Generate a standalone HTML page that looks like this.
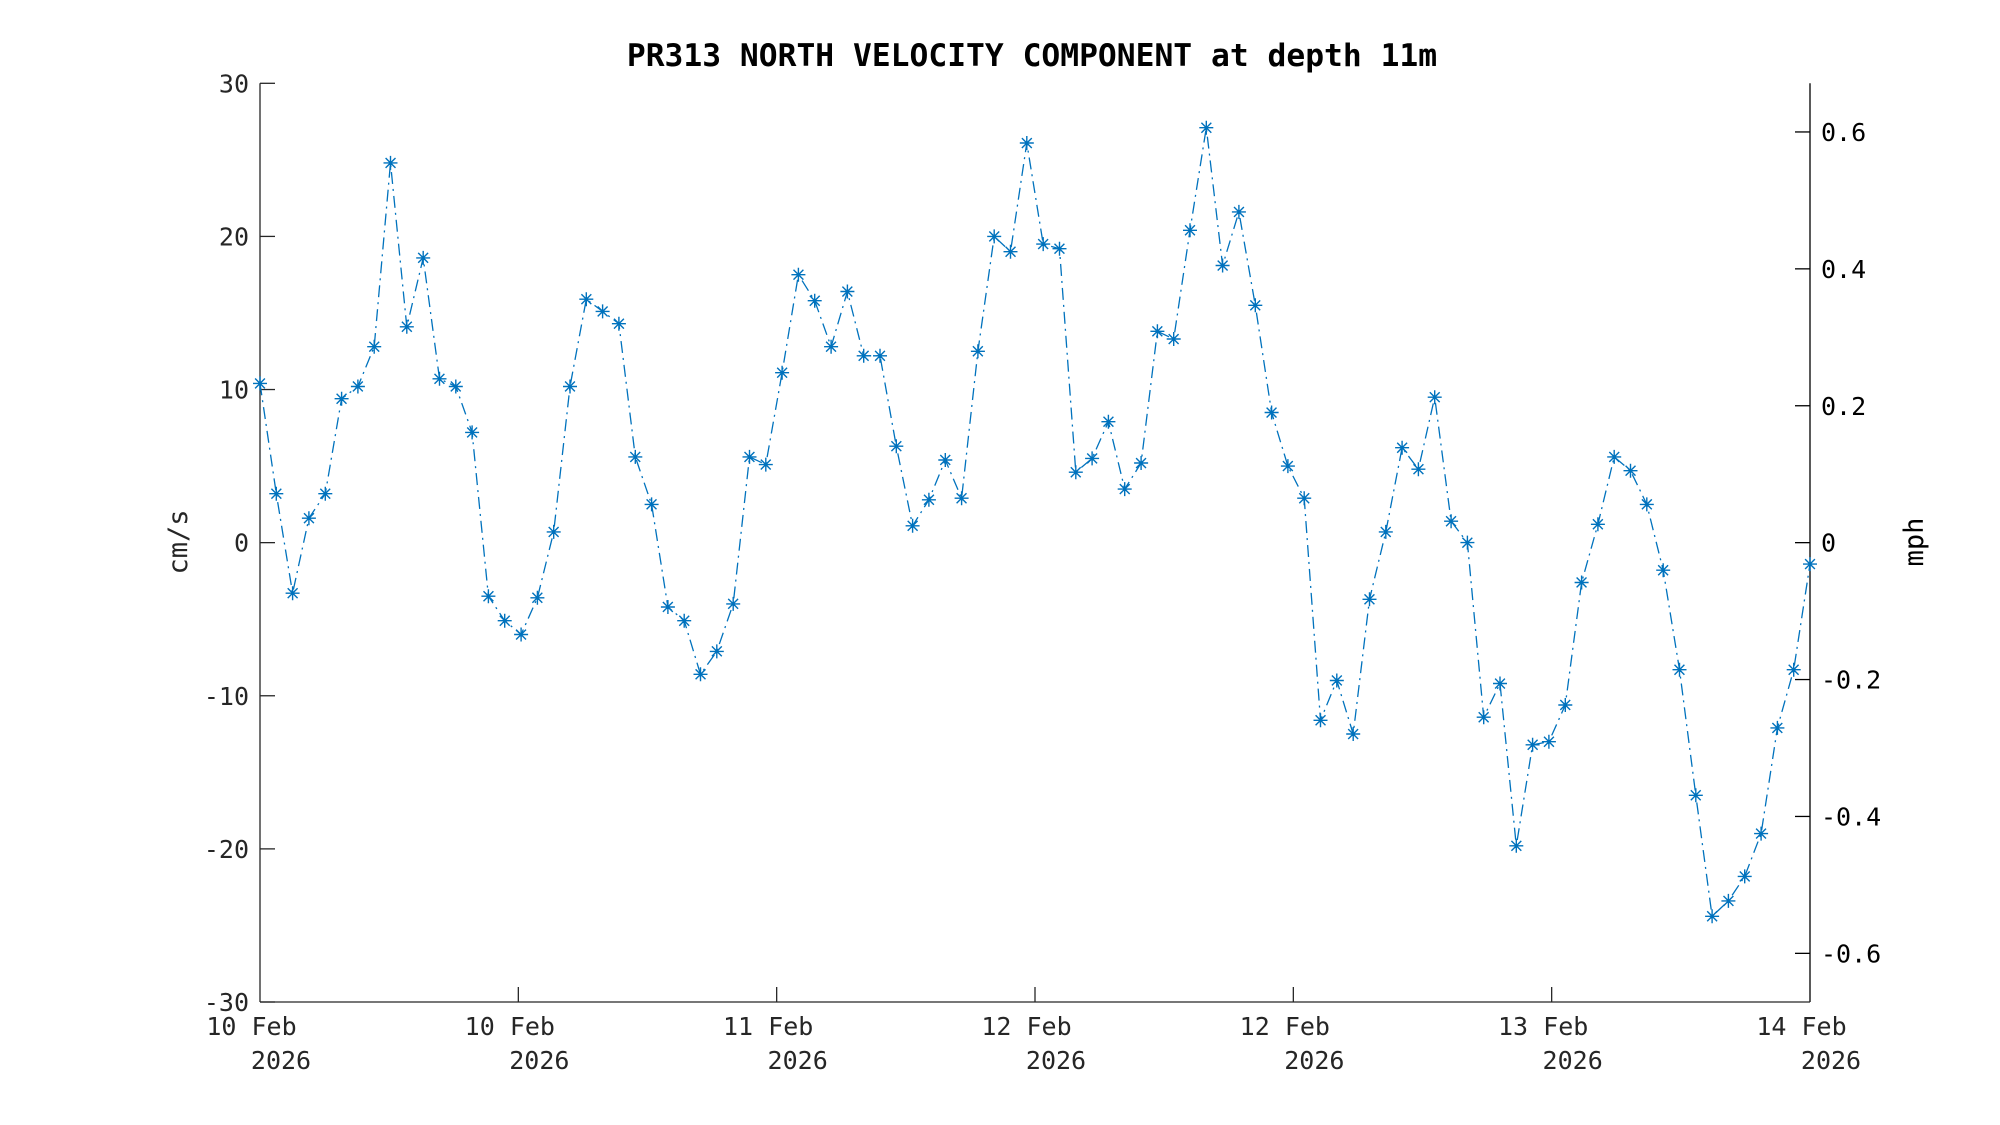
<!DOCTYPE html>
<html><head><meta charset="utf-8"><style>
html,body{margin:0;padding:0;background:#fff;}
svg{display:block;font-family:"DejaVu Sans Mono","Liberation Mono",monospace;}
</style></head><body>
<svg id="c" width="2000" height="1125" xmlns="http://www.w3.org/2000/svg"></svg>
<script>
const s=document.getElementById('c');
const L=260,R=1810,T=83.3,B=1002;
const yv=v=>542.65-v*(B-T)/60;
let h='';
h+=`<line x1="${L}" y1="${T}" x2="${L}" y2="${B}" stroke="#262626" stroke-width="1.3"/>`;
h+=`<line x1="${R}" y1="${T}" x2="${R}" y2="${B}" stroke="#000" stroke-width="1.3"/>`;
h+=`<line x1="${L}" y1="${B}" x2="${R}" y2="${B}" stroke="#262626" stroke-width="1.3"/>`;
for(let v=-30;v<=30;v+=10){const y=yv(v);
h+=`<line x1="${L}" y1="${y}" x2="${L+15}" y2="${y}" stroke="#262626" stroke-width="1.3"/>`;
h+=`<text x="${L-11}" y="${y+9}" font-size="25" fill="#262626" text-anchor="end">${v}</text>`;}
for(let m=-0.6;m<=0.61;m+=0.2){const mm=Math.round(m*10)/10;const y=yv(mm*44.704);
h+=`<line x1="${R-15}" y1="${y}" x2="${R}" y2="${y}" stroke="#000" stroke-width="1.3"/>`;
h+=`<text x="${R+11}" y="${y+9}" font-size="25" fill="#000">${mm===0?'0':mm.toFixed(1)}</text>`;}
const lab=['10 Feb','10 Feb','11 Feb','12 Feb','12 Feb','13 Feb','14 Feb'];
for(let i=0;i<7;i++){const x=L+i*(R-L)/6;
if(i>0&&i<6)h+=`<line x1="${x}" y1="${B}" x2="${x}" y2="${B-15}" stroke="#262626" stroke-width="1.3"/>`;
h+=`<text x="${x-8.5}" y="1035" font-size="25" fill="#262626" text-anchor="middle">${lab[i]}</text>`;
h+=`<text x="${x+21}" y="1069" font-size="25" fill="#262626" text-anchor="middle">2026</text>`;}
h+=`<text x="1032" y="66" font-size="31.3" font-weight="bold" text-anchor="middle" fill="#000">PR313 NORTH VELOCITY COMPONENT at depth 11m</text>`;
h+=`<text transform="translate(187,542) rotate(-90)" font-size="27" text-anchor="middle" fill="#262626">cm/s</text>`;
h+=`<text transform="translate(1923,542) rotate(-90)" font-size="27" text-anchor="middle" fill="#000">mph</text>`;
const d=[10.4,3.2,-3.3,1.6,3.2,9.4,10.2,12.8,24.8,14.1,18.6,10.7,10.2,7.2,-3.5,-5.1,-6.0,-3.6,0.7,10.2,15.9,15.1,14.3,5.6,2.5,-4.2,-5.1,-8.6,-7.1,-4.0,5.6,5.1,11.1,17.5,15.8,12.8,16.4,12.2,12.2,6.3,1.1,2.8,5.4,2.9,12.5,20.0,19.0,26.1,19.5,19.2,4.6,5.5,7.9,3.5,5.2,13.8,13.3,20.4,27.1,18.1,21.6,15.5,8.5,5.0,2.9,-11.6,-9.0,-12.5,-3.7,0.7,6.2,4.8,9.5,1.4,0.0,-11.4,-9.2,-19.8,-13.2,-13.0,-10.6,-2.6,1.2,5.6,4.7,2.5,-1.8,-8.3,-16.5,-24.4,-23.4,-21.8,-19.0,-12.1,-8.3,-1.4];
const n=d.length;const px=i=>L+i*(R-L)/(n-1);
let p=d.map((v,i)=>`${px(i).toFixed(1)},${yv(v).toFixed(1)}`).join(' ');
h+=`<polyline points="${p}" fill="none" stroke="#0072BD" stroke-width="1.3" stroke-dasharray="12,5,2,5"/>`;
let mk='';d.forEach((v,i)=>{const x=px(i),y=yv(v),r=7;
for(let a=0;a<4;a++){const t=a*Math.PI/4;const dx=r*Math.cos(t),dy=r*Math.sin(t);
mk+=`M${(x-dx).toFixed(1)} ${(y-dy).toFixed(1)}L${(x+dx).toFixed(1)} ${(y+dy).toFixed(1)}`;}});
h+=`<path d="${mk}" stroke="#0072BD" stroke-width="1.4" fill="none"/>`;
s.innerHTML=h;
</script>
</body></html>
